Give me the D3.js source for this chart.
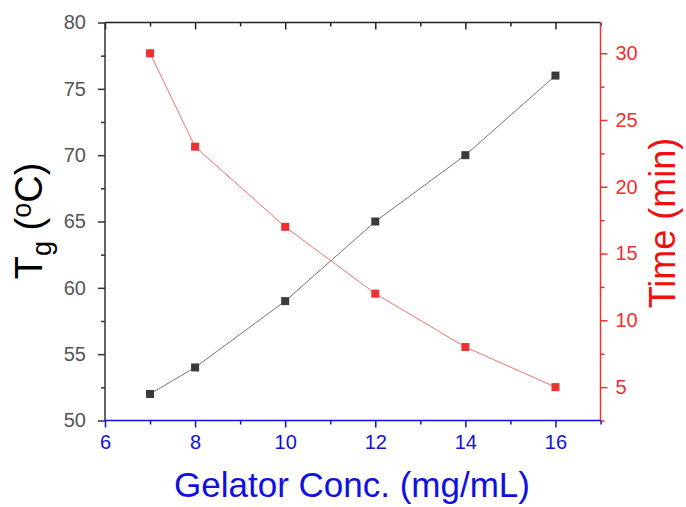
<!DOCTYPE html>
<html><head><meta charset="utf-8">
<script src="https://cdn.jsdelivr.net/npm/d3@7"></script>
<style>body{margin:0;background:#fff;} text{font-family:Arial,"Liberation Sans",sans-serif;}</style>
</head><body><svg id="c" width="686" height="507"></svg>
<script>
const conc = [7, 8, 10, 12, 14, 16];
const tg = [52, 54, 59, 65, 70, 76];
const time = [30, 23, 17, 12, 8, 5];
const xTicks = [6, 8, 10, 12, 14, 16];
const yTicks = [50, 55, 60, 65, 70, 75, 80];
const y2Ticks = [5, 10, 15, 20, 25, 30];

const svg = d3.select("#c");
const L = 105, R = 600.5, T = 22.5, B = 420.5;
const x = d3.scaleLinear().domain([6, 17]).range([L, R]);
const y = d3.scaleLinear().domain([50, 80]).range([B, T]);
const y2 = d3.scaleLinear().domain([2.5, 32.3]).range([B, T]);

const gray = "#333", blue = "#1010e0", red = "#ee3030";
const FS = "20px";

// top axis (inward ticks)
const gTop = svg.append("g").attr("transform", `translate(0,${T})`);
gTop.call(d3.axisTop(x).tickValues(d3.range(6, 17.01, 1)).tickSize(-7).tickFormat(""));
gTop.selectAll(".tick line").attr("y2", (d) => d % 2 === 0 ? 7 : 4);
gTop.selectAll("path,line").attr("stroke", "#222").attr("stroke-width", 1.5);
gTop.select("path").attr("d", `M${L},0H${R}`);

// left axis
const gLeft = svg.append("g").attr("transform", `translate(${L},0)`);
gLeft.call(d3.axisLeft(y).tickValues(d3.range(50, 80.01, 2.5)).tickSize(7).tickPadding(12)
  .tickFormat(d => yTicks.includes(d) ? d : ""));
gLeft.selectAll(".tick line").attr("x2", d => d % 5 === 0 ? -7 : -4);
gLeft.selectAll("path,line").attr("stroke", gray).attr("stroke-width", 1.5);
gLeft.select("path").attr("d", `M0,${T}V${B}`);
gLeft.selectAll("text").attr("fill", "#555").style("font-size", FS).style("font-family", "Arial, Liberation Sans, sans-serif");

// right axis
const gRight = svg.append("g").attr("transform", `translate(${R},0)`);
gRight.call(d3.axisRight(y2).tickValues(d3.range(2.5, 32.31, 2.5)).tickSize(7).tickPadding(8)
  .tickFormat(d => y2Ticks.includes(d) ? d : ""));
gRight.selectAll(".tick line").attr("x2", d => d % 5 === 0 ? 7 : 4);
gRight.selectAll("path,line").attr("stroke", red).attr("stroke-width", 1.5);
gRight.select("path").attr("d", `M0,${T}V${B}`);
gRight.selectAll("text").attr("fill", red).style("font-size", FS).style("font-family", "Arial, Liberation Sans, sans-serif");

// bottom axis
const gBot = svg.append("g").attr("transform", `translate(0,${B})`);
gBot.call(d3.axisBottom(x).tickValues(d3.range(6, 17.01, 1)).tickSize(7).tickPadding(7)
  .tickFormat(d => xTicks.includes(d) ? d : ""));
gBot.selectAll(".tick line").attr("y2", d => d % 2 === 0 ? 7 : 4);
gBot.selectAll("path,line").attr("stroke", blue).attr("stroke-width", 1.5);
gBot.select("path").attr("d", `M${L},0H${R}`);
gBot.selectAll("text").attr("fill", blue).style("font-size", FS).style("font-family", "Arial, Liberation Sans, sans-serif");

// series
const d1 = conc.map((c, i) => [c, tg[i]]);
const d2 = conc.map((c, i) => [c, time[i]]);
svg.append("path").datum(d1).attr("fill", "none").attr("stroke", "#666").attr("stroke-width", 0.9)
  .attr("d", d3.line().x(d => x(d[0])).y(d => y(d[1])));
svg.append("path").datum(d2).attr("fill", "none").attr("stroke", "#f06060").attr("stroke-width", 0.9)
  .attr("d", d3.line().x(d => x(d[0])).y(d => y2(d[1])));
const s = 8;
svg.selectAll(".m1").data(d1).join("rect").attr("x", d => x(d[0]) - s/2).attr("y", d => y(d[1]) - s/2)
  .attr("width", s).attr("height", s).attr("fill", "#3a3a3a");
svg.selectAll(".m2").data(d2).join("rect").attr("x", d => x(d[0]) - s/2).attr("y", d => y2(d[1]) - s/2)
  .attr("width", s).attr("height", s).attr("fill", "#ee3030");

// titles
svg.append("text").attr("x", 352).attr("y", 497).attr("text-anchor", "middle")
  .attr("fill", blue).style("font-size", "35px").text("Gelator Conc. (mg/mL)");

const lt = svg.append("text").attr("transform", `translate(42,221) rotate(-90)`).attr("text-anchor", "middle")
  .attr("fill", "#000").style("font-size", "38px");
lt.append("tspan").text("T");
lt.append("tspan").attr("dy", 9).style("font-size", "27px").text("g");
lt.append("tspan").attr("dy", -9).text(" (");
lt.append("tspan").attr("dy", -11).style("font-size", "27px").text("o");
lt.append("tspan").attr("dy", 11).text("C)");

svg.append("text").attr("transform", `translate(675,223) rotate(-90)`).attr("text-anchor", "middle")
  .attr("fill", "#f01010").style("font-size", "36px").text("Time (min)");
</script></body></html>
